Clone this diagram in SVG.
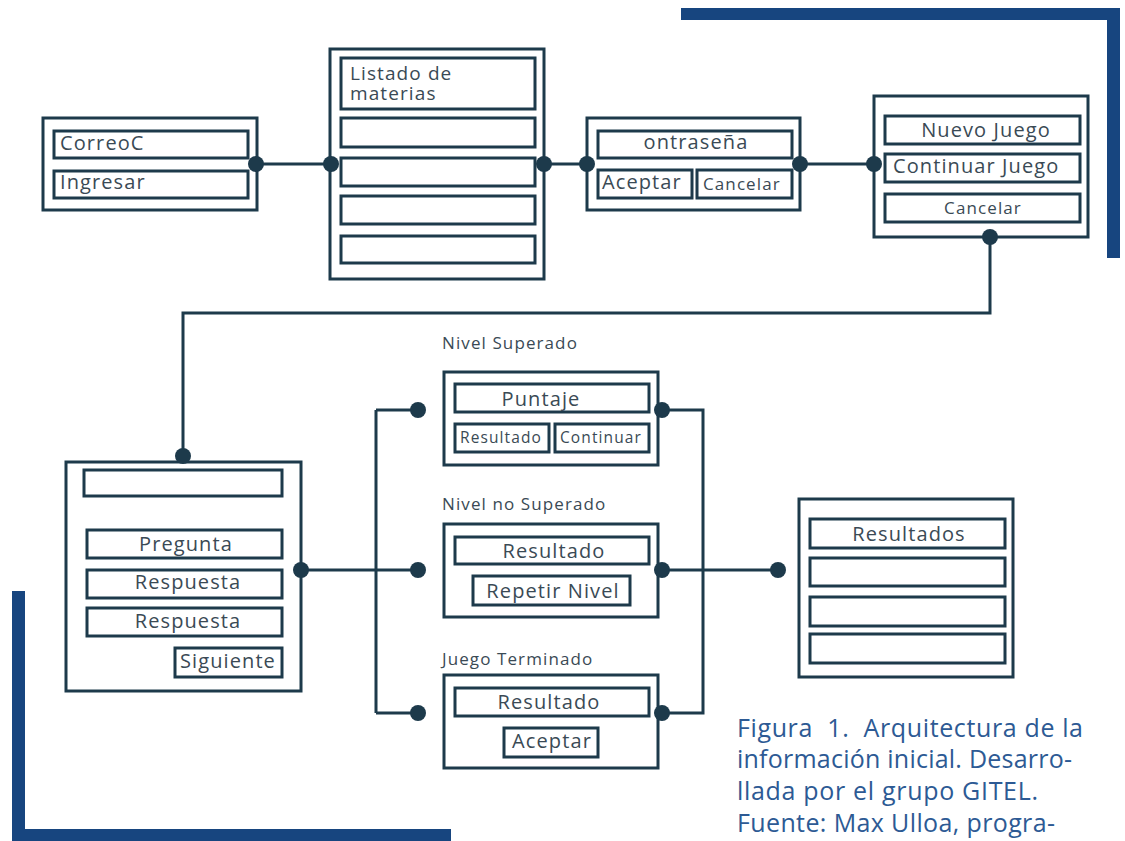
<svg xmlns="http://www.w3.org/2000/svg" width="1125" height="841" viewBox="0 0 1125 841">
<style>
.o{fill:#fff;stroke:#1d3a4b;stroke-width:3}
.i{fill:#fff;stroke:#1d3a4b;stroke-width:3}
.c{fill:none;stroke:#1d3a4b;stroke-width:3}
.d{fill:#1d3a4b}
.br{fill:#17457f}
text{font-family:"Open Sans","DejaVu Sans",sans-serif;fill:#3a4a55;letter-spacing:1.1px}
.t20{font-size:20px}
.t17{font-size:17px}
.t16{font-size:15.5px}
.m{text-anchor:middle}
.cap{font-size:25px;fill:#2d5a94;letter-spacing:0;white-space:pre}
</style>
<rect id="bracket-top" class="br" x="681" y="8" width="439" height="12"/>
<rect class="br" x="1107" y="8" width="13" height="250"/>
<rect id="bracket-bottom" class="br" x="12" y="591" width="13" height="250"/>
<rect class="br" x="12" y="829" width="439" height="12"/>
<g id="connectors">
<line class="c" x1="256" y1="164" x2="331" y2="164"/>
<line class="c" x1="544" y1="164" x2="587" y2="164"/>
<line class="c" x1="800" y1="164" x2="874" y2="164"/>
<polyline class="c" points="990,237 990,313 183,313 183,456"/>
<line class="c" x1="301" y1="570" x2="418" y2="570"/>
<line class="c" x1="376" y1="410" x2="376" y2="713"/>
<line class="c" x1="376" y1="410" x2="418" y2="410"/>
<line class="c" x1="376" y1="713" x2="418" y2="713"/>
<polyline class="c" points="662,410 703,410 703,713 662,713"/>
<line class="c" x1="662" y1="570" x2="778" y2="570"/>
</g>
<g id="login">
<rect class="o" x="43" y="118" width="214" height="92"/>
<rect class="i" x="54" y="131" width="194" height="27"/>
<rect class="i" x="54" y="171" width="194" height="27"/>
<text class="t20" x="60" y="150">CorreoC</text>
<text class="t20" x="60" y="189">Ingresar</text>
</g>
<g id="materias">
<rect class="o" x="330" y="49" width="214" height="230"/>
<rect class="i" x="341" y="58" width="194" height="51"/>
<rect class="i" x="341" y="118" width="194" height="29"/>
<rect class="i" x="341" y="158" width="194" height="28"/>
<rect class="i" x="341" y="196" width="194" height="28"/>
<rect class="i" x="341" y="236" width="194" height="27"/>
<text class="t20" style="font-size:19px"><tspan x="350" y="80">Listado de</tspan><tspan x="350" y="100">materias</tspan></text>
</g>
<g id="contrasena">
<rect class="o" x="587" y="118" width="213" height="92"/>
<rect class="i" x="598" y="131" width="194" height="27"/>
<rect class="i" x="598" y="170" width="94" height="28"/>
<rect class="i" x="697" y="170" width="95" height="28"/>
<text class="t20 m" x="696" y="149">ontraseña</text>
<text class="t20" x="602" y="189">Aceptar</text>
<text class="t17" x="703" y="190">Cancelar</text>
</g>
<g id="menu">
<rect class="o" x="874" y="96" width="214" height="141"/>
<rect class="i" x="885" y="116" width="195" height="28"/>
<rect class="i" x="885" y="154" width="195" height="28"/>
<rect class="i" x="885" y="194" width="195" height="28"/>
<text class="t20 m" x="986" y="137">Nuevo Juego</text>
<text class="t20" x="893" y="173">Continuar Juego</text>
<text class="t17 m" x="983" y="214">Cancelar</text>
</g>
<g id="pregunta">
<rect class="o" x="66" y="462" width="235" height="229"/>
<rect class="i" x="84" y="470" width="198" height="26"/>
<rect class="i" x="87" y="530" width="195" height="28"/>
<rect class="i" x="87" y="570" width="195" height="28"/>
<rect class="i" x="87" y="608" width="195" height="28"/>
<rect class="i" x="175" y="648" width="107" height="29"/>
<text class="t20 m" x="186" y="551">Pregunta</text>
<text class="t20 m" x="188" y="589">Respuesta</text>
<text class="t20 m" x="188" y="628">Respuesta</text>
<text class="t20" x="180" y="668">Siguiente</text>
</g>
<g id="nivel-superado">
<text class="t17" x="442" y="349">Nivel Superado</text>
<rect class="o" x="444" y="372" width="214" height="93"/>
<rect class="i" x="455" y="384" width="194" height="28"/>
<rect class="i" x="455" y="424" width="94" height="28"/>
<rect class="i" x="555" y="424" width="94" height="28"/>
<text class="t20 m" x="541" y="406">Puntaje</text>
<text class="t16" x="460" y="443">Resultado</text>
<text class="t16" x="560" y="443">Continuar</text>
</g>
<g id="nivel-no-superado">
<text class="t17" x="442" y="510">Nivel no Superado</text>
<rect class="o" x="444" y="524" width="214" height="93"/>
<rect class="i" x="455" y="537" width="194" height="27"/>
<rect class="i" x="473" y="576" width="157" height="29"/>
<text class="t20 m" x="554" y="558">Resultado</text>
<text class="t20 m" x="553" y="598">Repetir Nivel</text>
</g>
<g id="juego-terminado">
<text class="t17" x="442" y="665">Juego Terminado</text>
<rect class="o" x="444" y="675" width="214" height="93"/>
<rect class="i" x="455" y="688" width="194" height="28"/>
<rect class="i" x="504" y="728" width="94" height="29"/>
<text class="t20 m" x="549" y="709">Resultado</text>
<text class="t20 m" x="552" y="748">Aceptar</text>
</g>
<g id="resultados">
<rect class="o" x="799" y="499" width="214" height="178"/>
<rect class="i" x="810" y="519" width="195" height="29"/>
<rect class="i" x="810" y="558" width="195" height="28"/>
<rect class="i" x="810" y="597" width="195" height="29"/>
<rect class="i" x="810" y="634" width="195" height="29"/>
<text class="t20 m" x="909" y="541">Resultados</text>
</g>
<g id="dots">
<circle class="d" cx="256" cy="164" r="8"/>
<circle class="d" cx="331" cy="164" r="8"/>
<circle class="d" cx="544" cy="164" r="8"/>
<circle class="d" cx="587" cy="164" r="8"/>
<circle class="d" cx="800" cy="164" r="8"/>
<circle class="d" cx="874" cy="164" r="8"/>
<circle class="d" cx="990" cy="237" r="8"/>
<circle class="d" cx="183" cy="456" r="8"/>
<circle class="d" cx="301" cy="570" r="8"/>
<circle class="d" cx="418" cy="570" r="8"/>
<circle class="d" cx="418" cy="410" r="8"/>
<circle class="d" cx="418" cy="713" r="8"/>
<circle class="d" cx="662" cy="410" r="8"/>
<circle class="d" cx="662" cy="570" r="8"/>
<circle class="d" cx="662" cy="713" r="8"/>
<circle class="d" cx="778" cy="570" r="8"/>
</g>
<g id="caption">
<text class="cap" x="737" y="737" textLength="346" lengthAdjust="spacing">Figura  1.  Arquitectura de la</text>
<text class="cap" x="737" y="768" textLength="335" lengthAdjust="spacing">información inicial. Desarro-</text>
<text class="cap" x="737" y="800" textLength="301" lengthAdjust="spacing">llada por el grupo GITEL.</text>
<text class="cap" x="737" y="832" textLength="318" lengthAdjust="spacing">Fuente: Max Ulloa, progra-</text>
</g>
</svg>
